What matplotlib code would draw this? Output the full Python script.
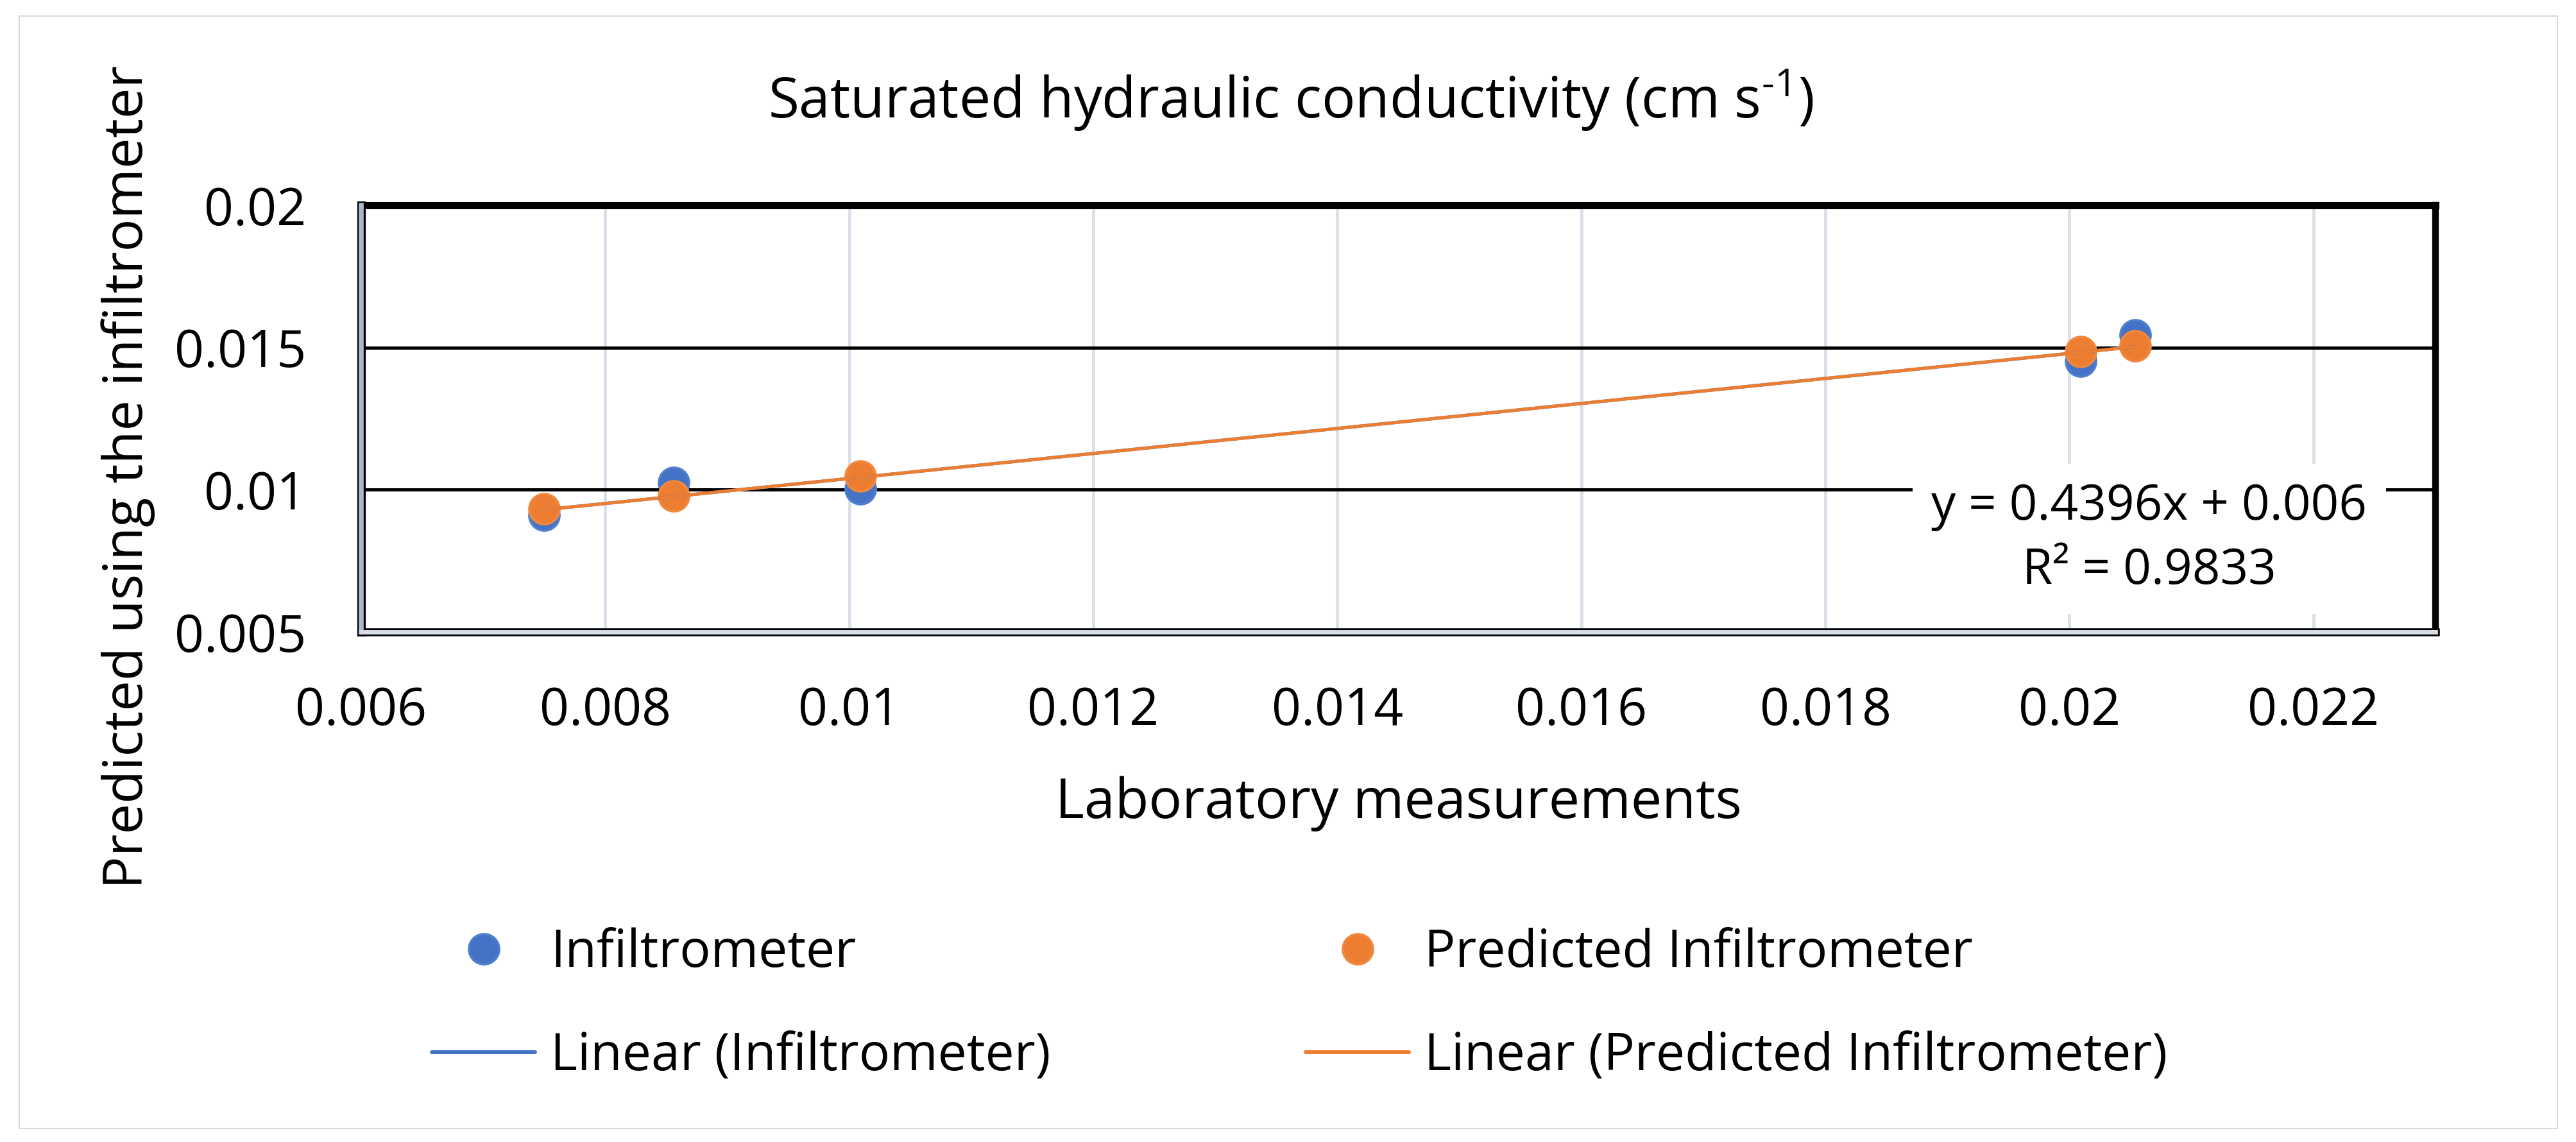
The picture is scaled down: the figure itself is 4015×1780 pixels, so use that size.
import matplotlib
matplotlib.use('Agg')
import matplotlib.pyplot as plt
from matplotlib.lines import Line2D
from matplotlib.patches import Rectangle
import numpy as np

plt.rcParams['font.family'] = ['Open Sans', 'DejaVu Sans']
plt.rcParams['mathtext.fontset'] = 'custom'
plt.rcParams['mathtext.rm'] = 'Open Sans'
plt.rcParams['mathtext.default'] = 'regular'

# data
lab_measurements = [0.0075, 0.00856, 0.01009, 0.02009, 0.02054]
infiltrometer = [0.0091, 0.01025, 0.01002, 0.01451, 0.01544]
predicted_infiltrometer = [0.00932, 0.00978, 0.01047, 0.01486, 0.01506]

trend_slope = 0.4396
trend_intercept = 0.006
trend_r2 = 0.9833

x_ticks = [0.006, 0.008, 0.01, 0.012, 0.014, 0.016, 0.018, 0.02, 0.022]
x_tick_labels = ['0.006', '0.008', '0.01', '0.012', '0.014', '0.016', '0.018', '0.02', '0.022']
y_ticks = [0.005, 0.01, 0.015, 0.02]
y_tick_labels = ['0.005', '0.01', '0.015', '0.02']

blue = '#4472C4'
orange = '#ED7D31'

W, H = 4016, 1780
fig = plt.figure(figsize=(W / 100, H / 100), dpi=100)
ax = fig.add_axes([563 / W, (H - 985) / H, (3796 - 563) / W, (985 - 320) / H])

# scatter points
ax.plot(lab_measurements, infiltrometer, 'o', ms=34, color=blue,
        mec='#4f7fd0', mew=2.5, zorder=3)
ax.plot(lab_measurements, predicted_infiltrometer, 'o', ms=34, color=orange,
        mec='#f0893f', mew=2.5, zorder=4)

# linear trendlines (both fits give the same line)
xs = np.array([min(lab_measurements), max(lab_measurements)])
ax.plot(xs, trend_slope * xs + trend_intercept, color=blue, lw=3.6, zorder=5)
ax.plot(xs, trend_slope * xs + trend_intercept, color=orange, lw=3.6, zorder=6)

# trendline label (pixel position, from the bottom)
ax.text(3350, H - 840, 'y = %.4fx + %.3f\nR² = %.4f' % (trend_slope, trend_intercept, trend_r2),
        transform=None, ha='center', va='center', fontsize=55, linespacing=1.4,
        bbox=dict(boxstyle='square,pad=0.38', fc='white', ec='none'), zorder=2.5)

ax.set_xlim(0.006, 0.023)
ax.set_ylim(0.005, 0.02)
ax.set_xticks(x_ticks)
ax.set_xticklabels(x_tick_labels)
ax.set_yticks(y_ticks)
ax.set_yticklabels(y_tick_labels)
ax.tick_params(length=0, labelsize=58, colors='black')
ax.tick_params(axis='x', pad=60)
ax.tick_params(axis='y', pad=62)

ax.set_axisbelow(True)
ax.grid(axis='y', color='black', lw=3.6)
ax.grid(axis='x', color='#dce1e9', lw=3.6)

ax.spines['top'].set_linewidth(8)
ax.spines['right'].set_linewidth(7.5)
ax.spines['left'].set_linewidth(9.5)
ax.spines['bottom'].set_linewidth(9)
ax.plot([0, 0], [0, 1], transform=ax.transAxes, color='#abb8cb', lw=5.5,
        clip_on=False, zorder=10)
ax.plot([0, 1], [0, 0], transform=ax.transAxes, color='#d7dde6', lw=5,
        clip_on=False, zorder=10)

# titles
fig.text(2012 / W, 1 - 183 / H, r'Saturated hydraulic conductivity (cm s$^{\text{-}1}$)',
         ha='center', va='baseline', fontsize=63)
fig.text(2180 / W, 1 - 1275 / H, 'Laboratory measurements',
         ha='center', va='baseline', fontsize=62)
fig.text(200 / W, 1 - 102 / H, 'Predicted using the infiltrometer',
         rotation=90, rotation_mode='anchor', ha='right', va='center', fontsize=61)

# legend, two columns
h_blue = [Line2D([], [], ls='none', marker='o', ms=34, color=blue, mec='#4f7fd0', mew=2.5),
          Line2D([], [], color=blue, lw=4.3, solid_capstyle='round')]
h_orange = [Line2D([], [], ls='none', marker='o', ms=34, color=orange, mec='#f0893f', mew=2.5),
            Line2D([], [], color=orange, lw=4.3, solid_capstyle='round')]
leg_kw = dict(loc='center left', frameon=False, fontsize=58, borderpad=0,
              borderaxespad=0, handlelength=2.0, handletextpad=0.3,
              labelspacing=1.0)
fig.legend(h_blue, ['Infiltrometer', 'Linear (Infiltrometer)'],
           bbox_to_anchor=(673 / W, 1 - 1566 / H), **leg_kw)
fig.legend(h_orange, ['Predicted Infiltrometer', 'Linear (Predicted Infiltrometer)'],
           bbox_to_anchor=(2035 / W, 1 - 1566 / H), **leg_kw)

# chart area border
fig.patches.append(Rectangle((30 / W, 1 - 1759 / H), (3986 - 30) / W, (1759 - 25) / H,
                             transform=fig.transFigure, fill=False, ec='#d9d9d9', lw=1.5))

fig.savefig('out.png', dpi=100)
